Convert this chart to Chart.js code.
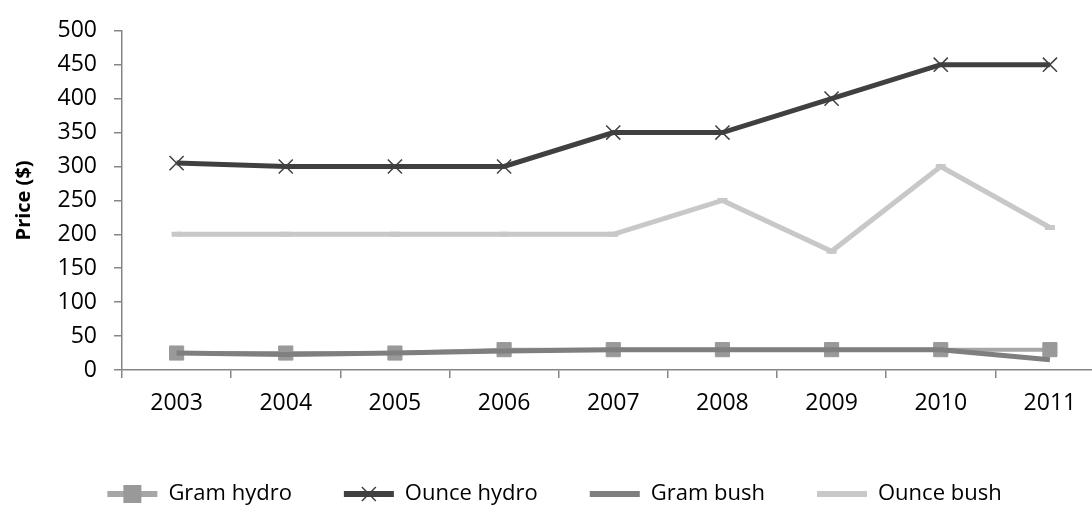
<!DOCTYPE html>
<html>
<head>
<meta charset="utf-8">
<script src="https://cdn.jsdelivr.net/npm/chart.js@4"></script>
<style>
  html, body { margin: 0; padding: 0; background: #fff; overflow: hidden; }
  #wrap { width: 1092px; height: 507px; overflow: hidden; }
</style>
</head>
<body>
<div id="wrap"><canvas id="priceChart" width="1116" height="507"></canvas></div>
<script>
const years = ["2003", "2004", "2005", "2006", "2007", "2008", "2009", "2010", "2011"];
const gramHydro = [25, 25, 25, 30, 30, 30, 30, 30, 30];
const ounceHydro = [305, 300, 300, 300, 350, 350, 400, 450, 450];
const gramBush = [25, 23, 25, 28, 30, 30, 30, 30, 15];
const ounceBush = [200, 200, 200, 200, 200, 250, 175, 300, 210];

const FONT = "'Open Sans', sans-serif";
const AXIS = "#868686";

// draw the series markers on top of the legend lines
const legendMarkers = {
  id: "legendMarkers",
  afterDraw(chart) {
    const legend = chart.legend;
    if (!legend || !legend.legendHitBoxes) return;
    const ctx = chart.ctx;
    const bw = legend.options.labels.boxWidth;
    legend.legendHitBoxes.forEach((box, i) => {
      const ds = chart.data.datasets[i];
      const cx = box.left + bw / 2;
      const cy = box.top + box.height / 2;
      ctx.save();
      if (ds.pointStyle === "rect") {
        ctx.fillStyle = ds.pointBackgroundColor;
        ctx.fillRect(cx - 9, cy - 9, 18, 18);
      } else if (ds.pointStyle === "crossRot") {
        ctx.strokeStyle = ds.pointBorderColor;
        ctx.lineWidth = 1.5;
        ctx.beginPath();
        ctx.moveTo(cx - 7, cy - 7); ctx.lineTo(cx + 7, cy + 7);
        ctx.moveTo(cx + 7, cy - 7); ctx.lineTo(cx - 7, cy + 7);
        ctx.stroke();
      }
      ctx.restore();
    });
  }
};

new Chart(document.getElementById("priceChart"), {
  type: "line",
  data: {
    labels: years,
    datasets: [
      {
        label: "Gram hydro",
        data: gramHydro,
        borderColor: "#a6a6a6",
        backgroundColor: "#a6a6a6",
        borderWidth: 4,
        pointStyle: "rect",
        pointRadius: 10,
        pointBackgroundColor: "#999999",
        pointBorderColor: "#999999",
        pointBorderWidth: 1,
        order: 4,
      },
      {
        label: "Ounce hydro",
        data: ounceHydro,
        borderColor: "#404040",
        backgroundColor: "#404040",
        borderWidth: 5,
        pointStyle: "crossRot",
        pointRadius: 10,
        pointBorderColor: "#404040",
        pointBackgroundColor: "#404040",
        pointBorderWidth: 1.5,
        order: 3,
      },
      {
        label: "Gram bush",
        data: gramBush,
        borderColor: "#7f7f7f",
        backgroundColor: "#7f7f7f",
        borderWidth: 5,
        pointRadius: 0,
        order: 2,
      },
      {
        label: "Ounce bush",
        data: ounceBush,
        borderColor: "#c8c8c8",
        backgroundColor: "#c8c8c8",
        borderWidth: 5,
        pointStyle: "line",
        pointRadius: 5,
        pointBorderColor: "#c8c8c8",
        pointBorderWidth: 5,
        order: 1,
      },
    ],
  },
  options: {
    responsive: false,
    animation: false,
    devicePixelRatio: 1,
    layout: { padding: { top: 27, right: 7, bottom: -8, left: 0 } },
    plugins: {
      tooltip: { enabled: false },
      legend: {
        position: "bottom",
        labels: {
          font: { family: FONT, size: 22 },
          color: "#000",
          boxWidth: 50,
          boxHeight: 6,
          padding: 52,
          sort: (a, b) => a.datasetIndex - b.datasetIndex,
          generateLabels: (chart) =>
            chart.data.datasets.map((ds, i) => ({
              text: ds.label,
              fillStyle: ds.borderColor,
              strokeStyle: ds.borderColor,
              lineWidth: 0,
              datasetIndex: i,
              hidden: false,
            })),
        },
      },
    },
    scales: {
      x: {
        offset: true,
        afterFit: (scale) => { scale.height = 61; },
        grid: {
          offset: true,
          drawOnChartArea: false,
          color: AXIS,
          lineWidth: 1.5,
          tickLength: 8,
        },
        border: { color: AXIS, width: 1.5 },
        ticks: { color: "#000", font: { family: FONT, size: 23 }, padding: 12, maxRotation: 0 },
      },
      y: {
        min: 0,
        max: 500,
        afterFit: (scale) => { scale.width = 122; },
        grid: {
          drawOnChartArea: false,
          color: AXIS,
          lineWidth: 1.5,
          tickLength: 8,
        },
        border: { color: AXIS, width: 1.5 },
        ticks: { stepSize: 50, color: "#000", font: { family: FONT, size: 23 }, padding: 17 },
        title: {
          display: true,
          text: "Price ($)",
          color: "#000",
          font: { family: FONT, size: 20, weight: "bold" },
          padding: { top: 12, bottom: 0 },
        },
      },
    },
  },
  plugins: [legendMarkers],
});
</script>
</body>
</html>
